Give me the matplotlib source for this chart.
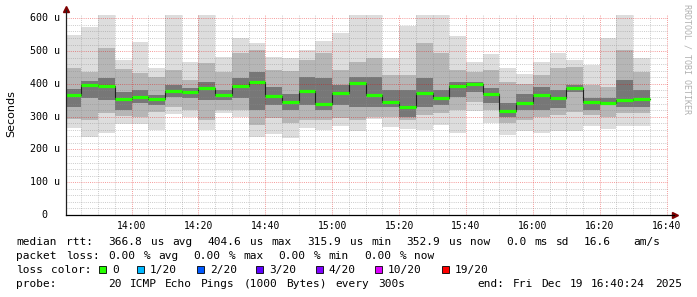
import re
import numpy as np
import matplotlib.pyplot as plt
from matplotlib.patches import Rectangle
from matplotlib.transforms import blended_transform_factory

# ==== dados: smokeping, 20 pings por passo de 5 min (valores em microsegundos) ====
inicio = 13 * 60 + 40      # primeiro passo 13:40
passo = 5                  # minutos
fim = 16 * 60 + 40 + 0.4   # 16:40:24

rtt_max = [549, 572, 610, 473, 529, 447, 610, 466, 610, 483, 539, 524, 483, 478, 503, 532, 556, 610,
           610, 478, 576, 610, 610, 546, 466, 491, 447, 430, 468, 495, 473, 458, 539, 610, 478]
rtt_hi2 = [447, 437, 510, 444, 432, 422, 442, 412, 463, 437, 493, 503, 442, 440, 473, 493, 442, 468,
           478, 427, 427, 524, 493, 442, 437, 442, 407, 400, 427, 447, 452, 397, 391, 503, 437]
rtt_hi1 = [385, 410, 417, 376, 381, 366, 397, 386, 407, 381, 417, 437, 391, 370, 422, 417, 397, 422,
           422, 381, 381, 417, 381, 407, 407, 386, 341, 370, 390, 381, 397, 356, 356, 412, 381]
mediana = [366, 397, 392, 353, 359, 355, 379, 376, 388, 367, 394, 405, 362, 346, 379, 338, 373, 404,
           367, 346, 329, 371, 357, 392, 400, 369, 316, 341, 366, 356, 386, 344, 343, 351, 353]
rtt_lo1 = [330, 356, 351, 320, 341, 336, 361, 356, 351, 351, 356, 320, 336, 320, 336, 320, 336, 330,
           330, 330, 300, 330, 336, 361, 376, 341, 300, 320, 320, 325, 376, 320, 336, 330, 330]
rtt_lo2 = [292, 290, 310, 302, 300, 315, 330, 320, 290, 320, 320, 275, 295, 280, 290, 290, 295, 290,
           300, 300, 290, 305, 310, 320, 346, 320, 280, 290, 300, 305, 315, 305, 300, 310, 310]
rtt_min = [264, 239, 251, 278, 278, 259, 308, 300, 259, 312, 298, 237, 247, 234, 264, 259, 272, 257,
           292, 269, 261, 259, 275, 249, 318, 280, 244, 257, 249, 257, 257, 271, 262, 270, 272]

ticks_x = [14 * 60, 14 * 60 + 20, 14 * 60 + 40, 15 * 60, 15 * 60 + 20, 15 * 60 + 40,
           16 * 60, 16 * 60 + 20, 16 * 60 + 40]
labels_x = ["14:00", "14:20", "14:40", "15:00", "15:20", "15:40", "16:00", "16:20", "16:40"]
ticks_y = [0, 100, 200, 300, 400, 500, 600]
labels_y = ["0", "100 u", "200 u", "300 u", "400 u", "500 u", "600 u"]

perda_labels = ["0", "1/20", "2/20", "3/20", "4/20", "10/20", "19/20"]
perda_cores = ["#26ff00", "#00b8ff", "#0059ff", "#5e00ff", "#7e00ff", "#dd00ff", "#ff0000"]

linha1 = "median rtt:  366.8 us avg  404.6 us max  315.9 us min  352.9 us now  0.0 ms sd  16.6   am/s"
linha2 = "packet loss: 0.00 % avg  0.00 % max  0.00 % min  0.00 % now"
linha4 = "probe:       20 ICMP Echo Pings (1000 Bytes) every 300s"
fim_txt = "end: Fri Dec 19 16:40:24 2025"

# ==== figura ====
W, H = 697, 297
MONO = "DejaVu Sans Mono"
fig = plt.figure(figsize=(W / 100, H / 100), dpi=100)
fig.patch.set_facecolor("white")
ax = fig.add_axes([66 / W, (H - 215) / H, 602 / W, 200 / H])
ax.set_facecolor("white")

t = inicio + passo * np.arange(len(mediana))

# fumaca (smoke), do mais claro ao mais escuro
faixas = [(rtt_min, rtt_max, "#dddddd"), (rtt_lo2, rtt_hi2, "#b6b6b6"), (rtt_lo1, rtt_hi1, "#777777")]
for lo, hi, cor in faixas:
    lo = np.array(lo)
    hi = np.array(hi)
    ax.bar(t, hi - lo, bottom=lo, width=passo, align="edge", color=cor, linewidth=0, zorder=1)

# grade
cinza = (0.55, 0.55, 0.55, 0.45)
verm = (0.9, 0.0, 0.0, 0.4)
pont = (0, (1.0, 1.2))
for m in np.arange(inicio + passo, fim, passo):
    maior = m % 20 == 0
    ax.axvline(m, color=verm if maior else cinza, lw=0.7, linestyle=pont, zorder=2)
for v in range(20, 601, 20):
    maior = v % 100 == 0
    ax.axhline(v, color=verm if maior else cinza, lw=0.7, linestyle=pont, zorder=2)

# mediana
ax.step(np.append(t, t[-1] + passo), np.append(mediana, mediana[-1]), where="post",
        color="#202020", lw=0.8, zorder=3)
ax.hlines(mediana, t, t + passo, colors=perda_cores[0], lw=2.3, zorder=4)

ax.set_xlim(inicio + 0.4, fim)
ax.set_ylim(0, 610)
for s in ax.spines.values():
    s.set_visible(False)

ax.set_xticks(ticks_x)
ax.set_xticklabels(labels_x, family=MONO, fontsize=7)
ax.tick_params(axis="x", length=0, pad=4)
ax.set_yticks([])

# rotulos do eixo y
tr = blended_transform_factory(fig.transFigure, ax.transData)
for v, lab in zip(ticks_y, labels_y):
    xr = 59.5 if lab != "0" else 47.5
    ax.text(xr / W, v, lab, transform=tr, ha="right", va="center", family=MONO, fontsize=7.2)

# eixos com setas
ax.plot([0, 0], [0, 1.025], transform=ax.transAxes, color="#202020", lw=0.9, clip_on=False, zorder=5)
ax.plot([0, 1.01], [0, 0], transform=ax.transAxes, color="#000000", lw=0.9, clip_on=False, zorder=5)
ax.plot([0], [1.03], marker="^", ms=4, color="#7f0000", transform=ax.transAxes, clip_on=False)
ax.plot([1.0115], [0], marker=">", ms=4, color="#7f0000", transform=ax.transAxes, clip_on=False)

fig.text(10.8 / W, 1 - 113.5 / H, "Seconds", rotation=90, ha="center", va="center",
         family="DejaVu Sans", fontsize=8)
fig.text(687 / W, 1 - 4 / H, "RRDTOOL / TOBI OETIKER", rotation=270, ha="center", va="top",
         family=MONO, fontsize=6, color="#b0b0b0")

# ==== legenda (colunas de 7.1 px) ====
CH = 7.1
def escreve(texto, y, x0=16):
    for m in re.finditer(r"\S+", texto):
        fig.text((x0 + m.start() * CH) / W, 1 - y / H, m.group(), family=MONO,
                 fontsize=8, va="baseline")

escreve(linha1, 245)
escreve(linha2, 259)
escreve("loss color:", 273)
x = 99.0
for lab, cor in zip(perda_labels, perda_cores):
    fig.add_artist(Rectangle((x / W, 1 - 273 / H), 7 / W, 7 / H, transform=fig.transFigure,
                             facecolor=cor, edgecolor="black", lw=0.6))
    escreve(lab, 273, x0=x + 13)
    x = x + 13 + len(lab) * CH + 18.1
escreve(linha4, 287)
escreve(fim_txt, 287, x0=16 + 65 * CH)

fig.savefig("out.png", dpi=100, facecolor="white")
